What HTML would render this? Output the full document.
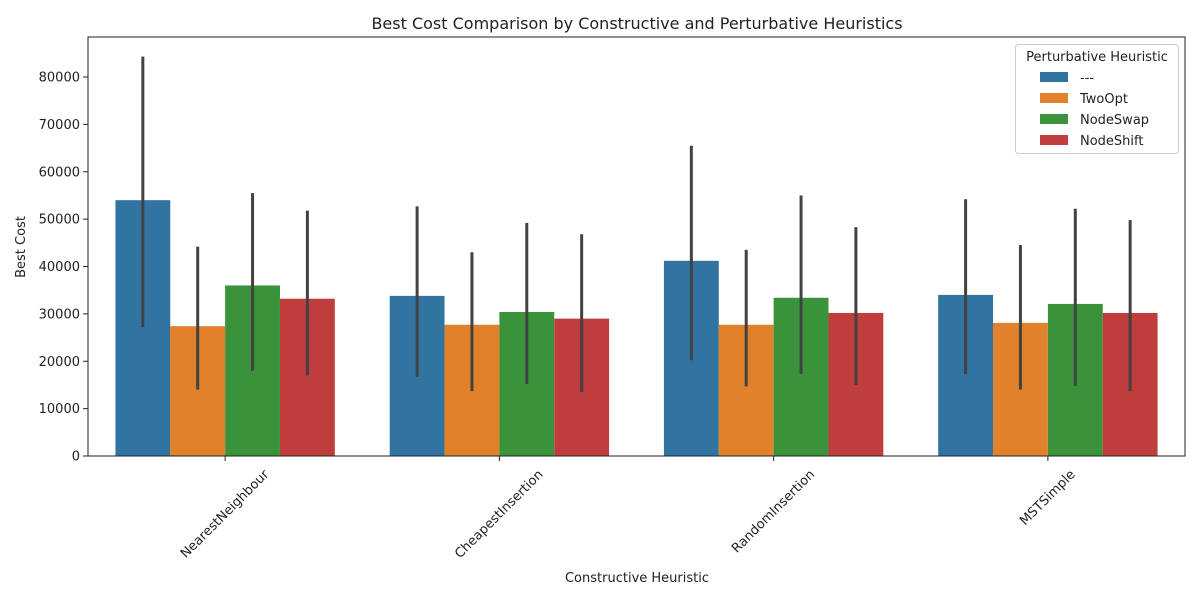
<!DOCTYPE html>
<html><head><meta charset="utf-8"><style>
body{margin:0;background:#fff}
svg text{font-family:"DejaVu Sans","Liberation Sans",sans-serif;fill:#222}
</style></head><body>
<svg id="chart" width="1200" height="600" xmlns="http://www.w3.org/2000/svg">
<rect width="1200" height="600" fill="#fff"/>
<text x="637" y="29" font-size="16" text-anchor="middle">Best Cost Comparison by Constructive and Perturbative Heuristics</text>
<g id="plot"></g>
<text x="637" y="582" font-size="13" text-anchor="middle">Constructive Heuristic</text>
<text transform="translate(25,247) rotate(-90)" font-size="13" text-anchor="middle">Best Cost</text>
<g id="legend"></g>
</svg>
<script>
const categories = ["NearestNeighbour","CheapestInsertion","RandomInsertion","MSTSimple"];
const series = ["---","TwoOpt","NodeSwap","NodeShift"];
const values = [
 [54000,27400,36000,33200],
 [33800,27700,30400,29000],
 [41200,27700,33400,30200],
 [34000,28100,32100,30200]
];
const errLow = [
 [27200,14000,18000,17000],
 [16700,13700,15200,13500],
 [20200,14700,17300,15000],
 [17300,14000,14800,13700]
];
const errHigh = [
 [84300,44200,55500,51800],
 [52700,43000,49200,46800],
 [65500,43500,55000,48300],
 [54200,44500,52200,49800]
];
const yTicks = [0,10000,20000,30000,40000,50000,60000,70000,80000];
const colors = ["#3274A1","#E1812C","#3A923A","#C03D3E"];
const NS="http://www.w3.org/2000/svg";
const L=88,R=1185,T=37,B=456;
const y=v=>B-v*(B-77)/80000;
const groupW=(R-L)/categories.length;
const xc=i=>L+groupW*(i+0.5);
const bw=groupW*0.8/series.length;
const plot=document.getElementById('plot');
function mk(tag,attrs,parent){const e=document.createElementNS(NS,tag);for(const k in attrs)e.setAttribute(k,attrs[k]);(parent||plot).appendChild(e);return e;}
yTicks.forEach(t=>{
 const g=mk('g',{});
 
 
 mk('line',{x1:L-5,x2:L,y1:y(t),y2:y(t),stroke:'#222'},g);
 const tx=mk('text',{x:L-8,y:y(t)+4.5,'font-size':13,'text-anchor':'end'},g);tx.textContent=t;
});
categories.forEach((c,i)=>{
 series.forEach((s,j)=>{
  const x0=xc(i)-groupW*0.4+j*bw;
  const r=mk('rect',{x:x0,y:y(values[i][j]),width:bw,height:B-y(values[i][j]),fill:colors[j]});
  
  
  const e=mk('line',{x1:x0+bw/2,x2:x0+bw/2,y1:y(errLow[i][j]),y2:y(errHigh[i][j]),stroke:'#424242','stroke-width':3});
  
  
 });
 const g=mk('g',{});
 
 
 mk('line',{x1:xc(i),x2:xc(i),y1:B,y2:B+5,stroke:'#222'},g);
 const tx=mk('text',{'font-size':13,'text-anchor':'middle','dominant-baseline':'central'},g);
 tx.textContent=c;
 const w=tx.getComputedTextLength();
 const h=(w+13)*Math.SQRT1_2/2;
 tx.setAttribute('transform',`translate(${xc(i)},${B+12+h}) rotate(-45)`);
});
const ax=mk('rect',{x:L,y:T,width:R-L,height:B-T,fill:'none',stroke:'#222','stroke-width':1});


const lg=document.getElementById('legend');
mk('rect',{x:1015.5,y:44.5,width:163,height:109,rx:3,fill:'#fff','fill-opacity':0.8,stroke:'#ccc'},lg);
const lt=mk('text',{x:1097,y:61,'font-size':13,'text-anchor':'middle'},lg);lt.textContent="Perturbative Heuristic";
series.forEach((s,j)=>{
 const g=mk('g',{},lg);
 
 
 mk('rect',{x:1040,y:72+j*21,width:28,height:10,fill:colors[j]},g);
 const t=mk('text',{x:1080,y:82+j*21,'font-size':13},g);t.textContent=s;
});
</script>
</body></html>
